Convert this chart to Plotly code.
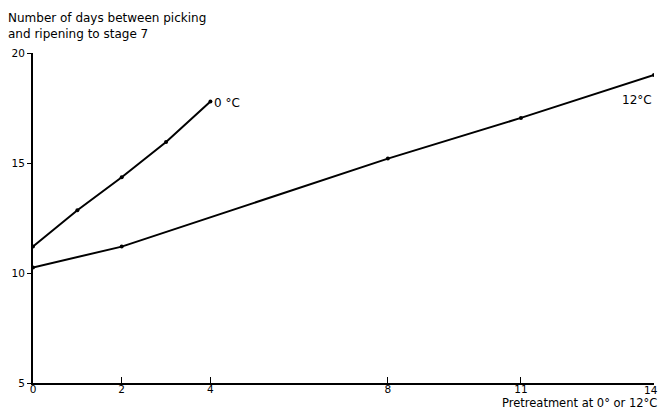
import plotly.graph_objects as go

# Pretreatment duration (days) and days to reach ripening stage 7
x_0c = [0, 1, 2, 3, 4]
y_0c = [11.2, 12.85, 14.35, 15.95, 17.8]

x_12c = [0, 2, 8, 11, 14]
y_12c = [10.25, 11.2, 15.2, 17.05, 19.0]

x_ticks = [0, 2, 4, 8, 11, 14]
x_tick_labels = ["0", "2", "4", "8", "11", "14"]
y_ticks = [5, 10, 15, 20]

FONT = dict(family="DejaVu Sans", size=12, color="black")
XTITLE_FONT = dict(family="DejaVu Sans", size=11.5, color="black")
TICK_FONT = dict(family="DejaVu Sans", size=10.5, color="black")
line_style = dict(color="black", width=2)
marker_style = dict(color="black", size=4)

fig = go.Figure()
fig.add_trace(go.Scatter(x=x_0c, y=y_0c, mode="lines+markers",
                         line=line_style, marker=marker_style, showlegend=False))
fig.add_trace(go.Scatter(x=x_12c, y=y_12c, mode="lines+markers",
                         line=line_style, marker=marker_style, showlegend=False))

fig.add_annotation(x=x_0c[-1], y=y_0c[-1], text="0 °C", showarrow=False,
                   xanchor="left", yanchor="middle", xshift=2, yshift=-2, font=FONT)
fig.add_annotation(x=x_12c[-1], y=y_12c[-1], text="12°C", showarrow=False,
                   xanchor="right", yanchor="top", xshift=0, yshift=-16, font=FONT)

fig.add_annotation(xref="paper", yref="paper", x=0, y=1.0, xshift=-27, yshift=44,
                   text="Number of days between picking<br>and ripening to stage 7",
                   showarrow=False, xanchor="left", yanchor="top", align="left",
                   font=FONT)
fig.add_annotation(xref="paper", yref="paper", x=1.0, y=0, xshift=4, yshift=-28,
                   text="Pretreatment at 0° or 12°C", showarrow=False, borderpad=0,
                   xanchor="right", yanchor="bottom", font=XTITLE_FONT)

# the last x tick label sits flush with the right edge, so it is drawn as text
fig.add_annotation(x=x_ticks[-1], y=0, yref="paper", text=x_tick_labels[-1],
                   showarrow=False, xanchor="right", yanchor="top", xshift=5,
                   yshift=0, borderpad=0, font=TICK_FONT)

fig.update_xaxes(range=[0, 14], tickvals=x_ticks,
                 ticktext=x_tick_labels[:-1] + [""], ticks="inside", ticklen=6,
                 ticklabelstandoff=-5,
                 tickcolor="black", tickwidth=1.2, showline=True, linecolor="black",
                 linewidth=2, showgrid=False, zeroline=False, tickfont=TICK_FONT)
fig.update_yaxes(range=[5, 20], tickvals=y_ticks, ticks="outside", ticklen=4,
                 tickcolor="black", tickwidth=1.2, showline=True, linecolor="black",
                 linewidth=2, showgrid=False, zeroline=False, tickfont=TICK_FONT)

fig.update_layout(width=659, height=411, margin=dict(l=33, r=5, t=53, b=28),
                  plot_bgcolor="white", paper_bgcolor="white", font=FONT)

fig.write_html("out.html")
